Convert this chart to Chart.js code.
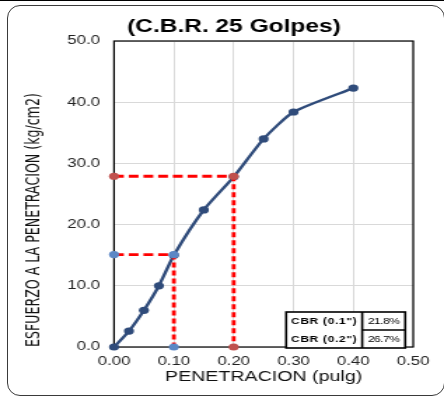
<!DOCTYPE html>
<html>
<head>
<meta charset="utf-8">
<script src="https://cdn.jsdelivr.net/npm/chart.js@4"></script>
<style>
  html, body { margin: 0; padding: 0; background: #fff; overflow: hidden; }
  #wrap { position: relative; width: 444px; height: 400px; }
  #topline { position: absolute; left: 0; top: 0; width: 444px; height: 1px; background: #000; }
  #frame { position: absolute; left: 7px; top: 5px; width: 436px; height: 389px;
           border: 1.5px solid #3a3a3a; border-radius: 13px; }
  /* the reference image is stretched sideways, so draw narrow and widen */
  #chart { position: absolute; left: 0; top: 0; width: 444px; height: 400px; }
</style>
</head>
<body>
<div id="wrap">
  <div id="topline"></div>
  <div id="frame"></div>
  <canvas id="chart" width="317" height="400" style="width:444px;height:400px"></canvas>
</div>
<script>
// ─── DATA ────────────────────────────────────────────────────
const penetracion = [0, 0.025, 0.05, 0.075, 0.1, 0.15, 0.2, 0.25, 0.3, 0.4];
const esfuerzo    = [0, 2.6, 6.0, 10.0, 15.0, 22.4, 27.8, 34.0, 38.4, 42.3];

const cbrPen      = [0.1, 0.2];
const cbrEsf      = [15.1, 27.9];
const cbrLabels   = ['CBR (0.1")', 'CBR (0.2")'];
const cbrValues   = ['21.8%', '26.7%'];

const xTicks = [0, 0.1, 0.2, 0.3, 0.4, 0.5];
const yTicks = [0, 10, 20, 30, 40, 50];

const TITLE = '(C.B.R. 25 Golpes)';
const X_TITLE = 'PENETRACION (pulg)';
const Y_TITLE = 'ESFUERZO A LA PENETRACION (kg/cm2)';

const LINE_BLUE = '#2f4b7a';
const DOT_BLUE = '#5b87c5';
const DOT_RED = '#c0504d';
const DASH_RED = '#ff0000';
const R = 3.6;

// horizontal guide (0,y) -> (x,y), vertical guide (x,y) -> (x,0)
function hGuide(i, color, order) {
  return {
    label: 'h' + i,
    data: [{ x: 0, y: cbrEsf[i] }, { x: cbrPen[i], y: cbrEsf[i] }],
    borderColor: DASH_RED,
    borderWidth: 2.8,
    borderDash: [7, 3.5],
    pointRadius: R,
    pointBackgroundColor: color,
    pointBorderWidth: 0,
    clip: false,
    order
  };
}
function vGuide(i, color, order) {
  return {
    label: 'v' + i,
    data: [{ x: cbrPen[i], y: cbrEsf[i] }, { x: cbrPen[i], y: 0 }],
    borderColor: DASH_RED,
    borderWidth: 2.8,
    borderDash: [5, 3],
    pointRadius: [0, R],
    pointBackgroundColor: color,
    pointBorderWidth: 0,
    clip: false,
    order
  };
}

// ─── PLUGINS ─────────────────────────────────────────────────
const framePlugin = {
  id: 'frame',
  beforeDatasetsDraw(chart) {
    const { ctx, chartArea: a } = chart;
    ctx.save();
    ctx.strokeStyle = '#000';
    ctx.lineWidth = 1.2;
    ctx.strokeRect(a.left, a.top, a.right - a.left, a.bottom - a.top);
    ctx.restore();
  },
  afterDraw(chart) {
    const { ctx, chartArea: a } = chart;
    ctx.save();
    // title
    ctx.fillStyle = '#000';
    ctx.font = 'bold 17.5px "Liberation Sans", Arial, sans-serif';
    ctx.textAlign = 'center';
    ctx.textBaseline = 'middle';
    ctx.fillText(TITLE, 167, 27);

    // CBR table
    const right = a.right - 5.7, left = right - 85, top = 312, bottom = a.bottom + 1;
    const colX = left + 54.3, rowY = 330;
    ctx.fillStyle = '#fff';
    ctx.fillRect(left, top, right - left, bottom - top);
    ctx.strokeStyle = '#000';
    ctx.lineWidth = 1.6;
    ctx.strokeRect(left, top, right - left, bottom - top);
    ctx.beginPath();
    ctx.moveTo(colX, top); ctx.lineTo(colX, bottom);
    ctx.moveTo(colX, rowY); ctx.lineTo(right, rowY);
    ctx.stroke();
    const rows = [(top + rowY) / 2, (rowY + bottom) / 2];
    ctx.fillStyle = '#000';
    ctx.textBaseline = 'middle';
    rows.forEach((cy, i) => {
      ctx.font = 'bold 8.5px "Liberation Sans", Arial, sans-serif';
      ctx.letterSpacing = '0.5px';
      ctx.fillText(cbrLabels[i], (left + colX) / 2, cy + 1);
      ctx.font = '8.5px "Liberation Sans", Arial, sans-serif';
      ctx.letterSpacing = '-0.3px';
      ctx.fillText(cbrValues[i], (colX + right) / 2, cy + 1);
    });
    ctx.restore();
  }
};

// ─── CHART ───────────────────────────────────────────────────
Chart.defaults.font.family = "'Liberation Sans', Arial, sans-serif";
Chart.defaults.color = '#222';

new Chart(document.getElementById('chart'), {
  type: 'line',
  data: {
    datasets: [
      hGuide(0, DOT_BLUE, 1),
      vGuide(0, DOT_BLUE, 2),
      hGuide(1, DOT_RED, 3),
      vGuide(1, DOT_RED, 4),
      {
        label: 'Esfuerzo',
        data: penetracion.map((p, i) => ({ x: p, y: esfuerzo[i] })),
        borderColor: LINE_BLUE,
        borderWidth: 2.4,
        pointRadius: R,
        pointBackgroundColor: LINE_BLUE,
        pointBorderWidth: 0,
        tension: 0.2,
        clip: false,
        order: 5
      }
    ]
  },
  options: {
    responsive: false,
    animation: false,
    devicePixelRatio: 1,
    layout: { padding: { top: 41, right: 22, bottom: 10, left: 0 } },
    plugins: {
      legend: { display: false },
      tooltip: { enabled: false }
    },
    scales: {
      x: {
        type: 'linear',
        min: 0,
        max: 0.5,
        afterFit: s => { s.height = 43; },
        afterBuildTicks: s => { s.ticks = xTicks.map(v => ({ value: v })); },
        grid: { color: '#d9d9d9', lineWidth: 1, drawTicks: false },
        border: { display: false },
        ticks: {
          padding: 7,
          color: '#222',
          font: { size: 12 },
          callback: v => v.toFixed(2)
        },
        title: {
          display: true,
          text: X_TITLE,
          color: '#111',
          font: { size: 14 },
          padding: { top: 0, bottom: 4 }
        }
      },
      y: {
        type: 'linear',
        min: 0,
        max: 50,
        afterFit: s => { s.width = 81.4; },
        afterBuildTicks: s => { s.ticks = yTicks.map(v => ({ value: v })); },
        grid: { color: '#d9d9d9', lineWidth: 1, drawTicks: false },
        border: { display: false },
        ticks: {
          padding: 10,
          color: '#222',
          font: { size: 12 },
          callback: v => v.toFixed(1)
        },
        title: {
          display: true,
          text: Y_TITLE,
          align: 'start',
          color: '#111',
          font: { size: 14, family: "'Liberation Sans Narrow', 'DejaVu Sans Condensed', 'Liberation Sans', sans-serif" },
          padding: { top: 16, bottom: 0 }
        }
      }
    }
  },
  plugins: [framePlugin]
});
</script>
</body>
</html>
